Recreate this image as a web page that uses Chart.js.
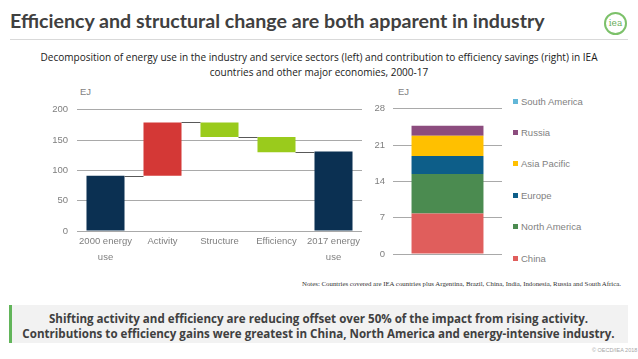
<!DOCTYPE html>
<html><head><meta charset="utf-8">
<script src="https://cdn.jsdelivr.net/npm/chart.js@4.4.1/dist/chart.umd.min.js"></script>
<style>
html,body{margin:0;padding:0;}
body{width:638px;height:359px;overflow:hidden;background:#fff;position:relative;font-family:"Liberation Sans",Arial,sans-serif;}
.abs{position:absolute;white-space:nowrap;line-height:1;}
#title{left:10px;top:11px;font-family:Lato,"Open Sans",sans-serif;font-weight:700;color:#404040;}
#rule{left:10px;top:39px;width:618px;height:1px;background:#d9d9d9;}
#logo{left:604px;top:12px;width:19px;height:19px;border:2px solid #7cc16a;border-radius:50%;color:#6aae5a;font-family:"DejaVu Serif",serif;font-size:9px;text-align:center;line-height:19px;}
.sub{left:0;text-align:center;color:#1a1a1a;font-family:"Open Sans",sans-serif;}
.ej{color:#7f7f7f;font-size:9.5px;}
#notes{left:302px;top:281px;font-family:"Liberation Serif",serif;color:#333;}
#box{left:9px;top:305px;width:619px;height:38px;background:#f2f2f2;border-left:3px solid #62b55a;box-sizing:border-box;}
.boxline{left:9px;text-align:center;font-family:"Open Sans",sans-serif;font-weight:700;color:#404040;}
#copy{left:592px;top:348px;font-size:5.5px;color:#a6a6a6;}
#legend{position:absolute;left:513px;top:85.3px;}
.li{height:31.45px;display:flex;align-items:center;font-size:9.5px;color:#7f7f7f;white-space:nowrap;}
.sw{width:5px;height:5px;margin-right:3px;}
canvas{position:absolute;}
</style></head><body>
<div id="title" class="abs">Efficiency and structural change are both apparent in industry</div>
<div id="rule" class="abs"></div>
<div id="logo" class="abs">iea</div>
<div id="sub1" class="abs sub">Decomposition of energy use in the industry and service sectors (left) and contribution to efficiency savings (right) in IEA</div>
<div id="sub2" class="abs sub">countries and other major economies, 2000-17</div>
<div class="abs ej" style="left:80px;top:87px;">EJ</div>
<div class="abs ej" style="left:398px;top:87px;">EJ</div>
<canvas id="left" width="372" height="180" style="left:0;top:95px;width:372px;height:180px;"></canvas>
<canvas id="right" width="140" height="175" style="left:372px;top:95px;width:140px;height:175px;"></canvas>
<div id="legend"></div>
<div id="notes" class="abs">Notes: Countries covered are IEA countries plus Argentina, Brazil, China, India, Indonesia, Russia and South Africa.</div>
<div id="box" class="abs"></div>
<div id="b1" class="abs boxline">Shifting activity and efficiency are reducing offset over 50% of the impact from rising activity.</div>
<div id="b2" class="abs boxline">Contributions to efficiency gains were greatest in China, North America and energy-intensive industry.</div>
<div id="copy" class="abs">© OECD/IEA 2018</div>
<script>
// ---- data ----
const waterfallCategories = [['2000 energy', 'use'], 'Activity', 'Structure', 'Efficiency', ['2017 energy', 'use']];
const waterfallLow  = [0, 91, 155, 130, 0];
const waterfallHigh = [91, 179, 179, 155, 131];
const leftTicks = [0, 50, 100, 150, 200];

const regions = ['China', 'North America', 'Europe', 'Asia Pacific', 'Russia', 'South America'];
const savings = [7.8, 7.6, 3.5, 3.9, 1.9, 0];
const rightTicks = [0, 7, 14, 21, 28];

// ---- styles ----
const waterfallColors = ['#0b3052', '#d43836', '#9acb1c', '#9acb1c', '#0b3052'];
const regionColors = ['#e05e5c', '#4b8b50', '#0d5e89', '#ffc000', '#8c4c7e', '#62b7d8'];
const tickFont = {family: '"Liberation Sans", Arial, sans-serif', size: 9.5};
const tickColor = '#7f7f7f';
const gridColor = '#a9a9a9';

function fitText(id, target) {
  const el = document.getElementById(id);
  el.style.width = 'auto';
  el.style.fontSize = '20px';
  const w = el.getBoundingClientRect().width;
  const s = 20 * target / w;
  el.style.fontSize = s + 'px';
  return s;
}
fitText('title', 535);
const s1 = fitText('sub1', 558);
const sub1 = document.getElementById('sub1'), sub2 = document.getElementById('sub2');
sub1.style.width = '638px'; sub2.style.width = '638px';
sub1.style.top = (57 - s1 / 2) + 'px';
sub2.style.fontSize = s1 + 'px';
sub2.style.top = (72 - s1 / 2) + 'px';
fitText('notes', 320);
(function () {
  const el = document.getElementById('b2');
  const s = fitText('b2', 593);
  el.style.width = '619px';
  const e1 = document.getElementById('b1');
  e1.style.width = '619px';
  e1.style.fontSize = s + 'px';
  e1.style.top = (318.5 - s / 2) + 'px';
  el.style.top = (333.5 - s / 2) + 'px';
})();

const connectors = {
  id: 'connectors',
  afterDatasetsDraw(chart) {
    const meta = chart.getDatasetMeta(0);
    const y = chart.scales.y;
    const ctx = chart.ctx;
    ctx.save();
    ctx.strokeStyle = '#595959';
    ctx.lineWidth = 1;
    for (let i = 0; i < waterfallLow.length - 1; i++) {
      const level = (waterfallHigh[i] === waterfallHigh[i + 1] || waterfallHigh[i] === waterfallLow[i + 1]) ? waterfallHigh[i] : waterfallLow[i];
      const a = meta.data[i], b = meta.data[i + 1];
      const py = Math.round(y.getPixelForValue(level)) + 0.5;
      ctx.beginPath();
      ctx.moveTo(a.x + a.width / 2, py);
      ctx.lineTo(b.x - b.width / 2, py);
      ctx.stroke();
    }
    ctx.restore();
  }
};

new Chart(document.getElementById('left'), {
  type: 'bar',
  data: {
    labels: waterfallCategories,
    datasets: [{
      data: waterfallLow.map((l, i) => [l, waterfallHigh[i]]),
      backgroundColor: waterfallColors,
      barPercentage: 0.667,
      categoryPercentage: 1
    }]
  },
  options: {
    responsive: false, animation: false,
    layout: {padding: {top: 10.7, right: 10, left: 0, bottom: 0}},
    plugins: {legend: {display: false}, tooltip: {enabled: false}},
    scales: {
      x: {
        grid: {display: false, drawTicks: false}, border: {display: false},
        ticks: {color: tickColor, font: {...tickFont, lineHeight: 1.62}, padding: 3, maxRotation: 0, autoSkip: false},
        afterFit: s => { s.height = 180 - 136; }
      },
      y: {
        min: 0, max: 200,
        afterBuildTicks: s => { s.ticks = leftTicks.map(v => ({value: v})); },
        grid: {color: gridColor, drawTicks: false}, border: {display: false},
        ticks: {color: tickColor, font: tickFont, padding: 9},
        afterFit: s => { s.width = 77; }
      }
    }
  },
  plugins: [connectors]
});

new Chart(document.getElementById('right'), {
  type: 'bar',
  data: {
    labels: [''],
    datasets: regions.map((r, i) => ({
      label: r, data: [savings[i]], backgroundColor: regionColors[i],
      barPercentage: 0.66, categoryPercentage: 1
    }))
  },
  options: {
    responsive: false, animation: false,
    layout: {padding: {top: 10, right: 10, left: 0, bottom: 16}},
    plugins: {legend: {display: false}, tooltip: {enabled: false}},
    scales: {
      x: {stacked: true, display: false},
      y: {
        stacked: true, min: 0, max: 28,
        afterBuildTicks: s => { s.ticks = rightTicks.map(v => ({value: v})); },
        grid: {color: gridColor, drawTicks: false}, border: {display: false},
        ticks: {color: tickColor, font: tickFont, padding: 8},
        afterFit: s => { s.width = 21; }
      }
    }
  }
});

const lg = document.getElementById('legend');
for (let i = regions.length - 1; i >= 0; i--) {
  const d = document.createElement('div');
  d.className = 'li';
  d.innerHTML = '<span class="sw" style="background:' + regionColors[i] + '"></span>' + regions[i];
  lg.appendChild(d);
}
</script>
</body></html>
